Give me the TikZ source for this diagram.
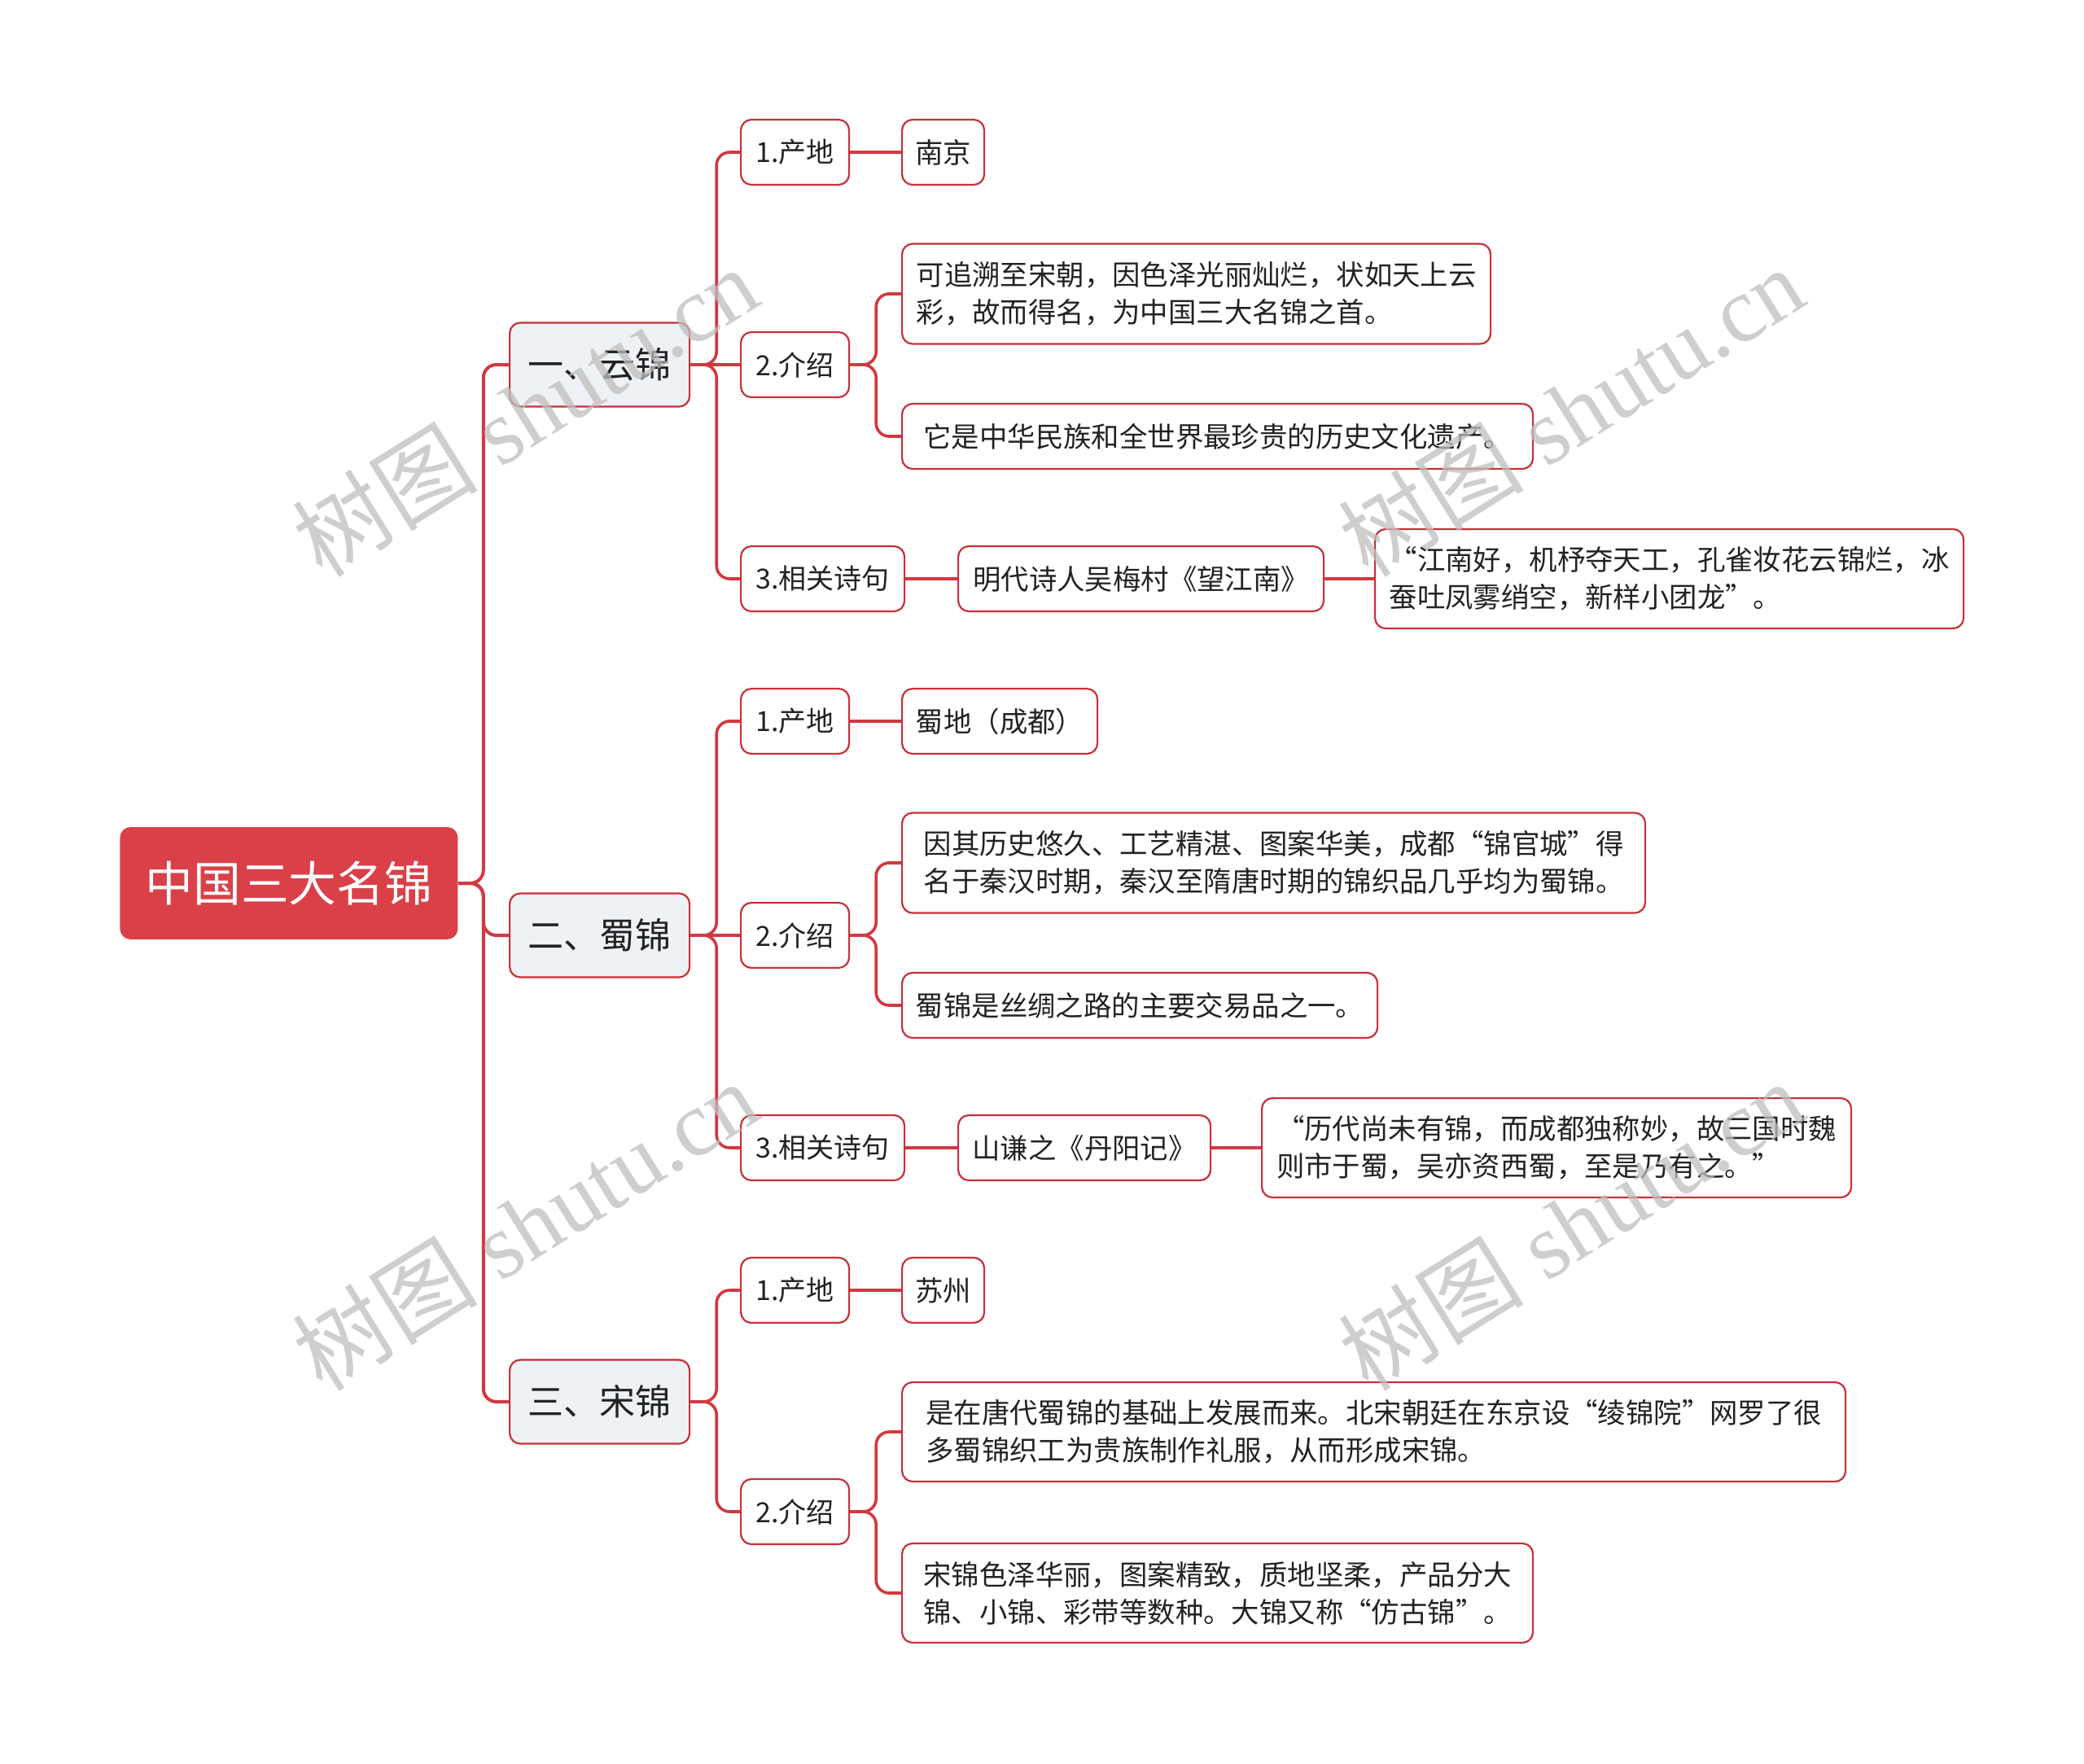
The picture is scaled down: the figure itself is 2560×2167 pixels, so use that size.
\documentclass[tikz,border=0pt]{standalone}
\usepackage{fontspec}
\setmainfont{Noto Sans CJK SC}
\newfontfamily\wmcjk{Noto Sans CJK SC}
\newfontfamily\wmlat{Liberation Serif}
\definecolor{lred}{RGB}{210,56,64}
\definecolor{bred}{RGB}{200,48,56}
\definecolor{rootred}{RGB}{218,64,72}
\definecolor{lonefill}{RGB}{238,241,245}
\definecolor{txt}{RGB}{34,34,34}
\definecolor{wm}{RGB}{190,190,190}
\tikzset{
  conn/.style={draw=lred, line width=1.8pt, rounded corners=8pt},
  rootbox/.style={fill=rootred, rounded corners=6.5pt, text=white, anchor=west,
    inner sep=0pt, font=\fontsize{29.4}{34}\selectfont},
  lonebox/.style={draw=bred, line width=1.1pt, fill=lonefill, rounded corners=6.5pt,
    text=txt, anchor=west, inner sep=0pt, minimum width=110.5pt, minimum height=51.5pt,
    font=\fontsize{22}{26}\selectfont},
  ltwobox/.style={draw=bred, line width=1.1pt, fill=white, rounded corners=6.5pt,
    text=txt, anchor=west, inner sep=0pt, minimum height=40pt,
    font=\fontsize{17}{23}\selectfont},
  box/.style={draw=bred, line width=1.1pt, fill=white, rounded corners=6.5pt,
    text=txt, anchor=west, inner sep=0pt, minimum height=40pt,
    font=\fontsize{17.2}{23}\selectfont},
  tbox/.style={box, align=left, minimum height=61.5pt},
  wmark/.style={text=wm, opacity=0.75, rotate=32, inner sep=0pt}
}
\begin{document}
\begin{tikzpicture}[x=0.5pt,y=-0.5pt]
\useasboundingbox (0,0) rectangle (2560,2167);
% root
\node[rootbox, minimum width=207.5pt, minimum height=69pt] (root) at (147,1085) {中国三大名锦};
% level 1
\node[lonebox] (A) at (625,448) {一、云锦};
\node[lonebox] (B) at (625,1149) {二、蜀锦};
\node[lonebox] (C) at (625,1722) {三、宋锦};
% level 2
\node[ltwobox, minimum width=66.5pt] (A1) at (909,187) {1.产地};
\node[ltwobox, minimum width=66.5pt] (A2) at (909,448) {2.介绍};
\node[ltwobox, minimum width=100.5pt] (A3) at (909,711) {3.相关诗句};
\node[ltwobox, minimum width=66.5pt] (B1) at (909,886) {1.产地};
\node[ltwobox, minimum width=66.5pt] (B2) at (909,1149) {2.介绍};
\node[ltwobox, minimum width=100.5pt] (B3) at (909,1410) {3.相关诗句};
\node[ltwobox, minimum width=66.5pt] (C1) at (909,1585) {1.产地};
\node[ltwobox, minimum width=66.5pt] (C2) at (909,1857) {2.介绍};
% level 3
\node[box, minimum width=50.5pt] (A11) at (1107,187) {南京};
\node[tbox, minimum width=361.5pt] (A21) at (1107,361) {可追溯至宋朝，因色泽光丽灿烂，状如天上云\\彩，故而得名，为中国三大名锦之首。};
\node[box, minimum width=387.5pt] (A22) at (1107,536) {它是中华民族和全世界最珍贵的历史文化遗产。};
\node[box, minimum width=224.5pt] (A31) at (1176,711) {明代诗人吴梅村《望江南》};
\node[tbox, minimum width=361.5pt, minimum height=61pt] (A32) at (1688,711) {“江南好，机杼夺天工，孔雀妆花云锦烂，冰\\蚕吐凤雾绡空，新样小团龙”。};
\node[box, minimum width=120pt] (B11) at (1107,886) {蜀地（成都）};
\node[tbox, minimum width=456.5pt] (B21) at (1107,1060) {因其历史悠久、工艺精湛、图案华美，成都“锦官城”得\\名于秦汉时期，秦汉至隋唐时期的锦织品几乎均为蜀锦。};
\node[box, minimum width=292pt] (B22) at (1107,1235) {蜀锦是丝绸之路的主要交易品之一。};
\node[box, minimum width=155pt] (B31) at (1176,1410) {山谦之《丹阳记》};
\node[tbox, minimum width=362pt, minimum height=61pt] (B32) at (1549,1410) {“历代尚未有锦，而成都独称妙，故三国时魏\\则市于蜀，吴亦资西蜀，至是乃有之。”};
\node[box, minimum width=50.5pt] (C11) at (1107,1585) {苏州};
\node[tbox, minimum width=579.5pt, minimum height=61pt] (C21) at (1107,1759) {是在唐代蜀锦的基础上发展而来。北宋朝廷在东京设“绫锦院”网罗了很\\多蜀锦织工为贵族制作礼服，从而形成宋锦。};
\node[tbox, minimum width=387.5pt, minimum height=61pt] (C22) at (1107,1957) {宋锦色泽华丽，图案精致，质地坚柔，产品分大\\锦、小锦、彩带等数种。大锦又称“仿古锦”。};
% connectors
\draw[conn, line width=2pt] (root.east) -- ++(31,0) |- (A.west);
\draw[conn, line width=2pt] (root.east) -- ++(31,0) |- (B.west);
\draw[conn, line width=2pt] (root.east) -- ++(31,0) |- (C.west);
\foreach \p/\c in {A/A1,A/A3,B/B1,B/B3,C/C1,C/C2}{
  \draw[conn] (\p.east) -- ++(32,0) |- (\c.west);
}
\foreach \p/\c in {A/A2,B/B2}{
  \draw[conn] (\p.east) -- (\c.west);
}
\foreach \p/\c in {A2/A21,A2/A22,B2/B21,B2/B22,C2/C21,C2/C22}{
  \draw[conn] (\p.east) -- ++(32,0) |- (\c.west);
}
\foreach \p/\c in {A1/A11,A3/A31,A31/A32,B1/B11,B3/B31,B31/B32,C1/C11}{
  \draw[conn] (\p.east) -- (\c.west);
}
% watermarks
\foreach \wx/\wy [count=\i] in {645/505,1930/505,645/1505,1930/1505}{
  \node[wmark] (wm\i) at (\wx,\wy) {\fontsize{57}{62}\selectfont\wmcjk 树图\wmlat\ shutu.cn};
}
\end{tikzpicture}
\end{document}
